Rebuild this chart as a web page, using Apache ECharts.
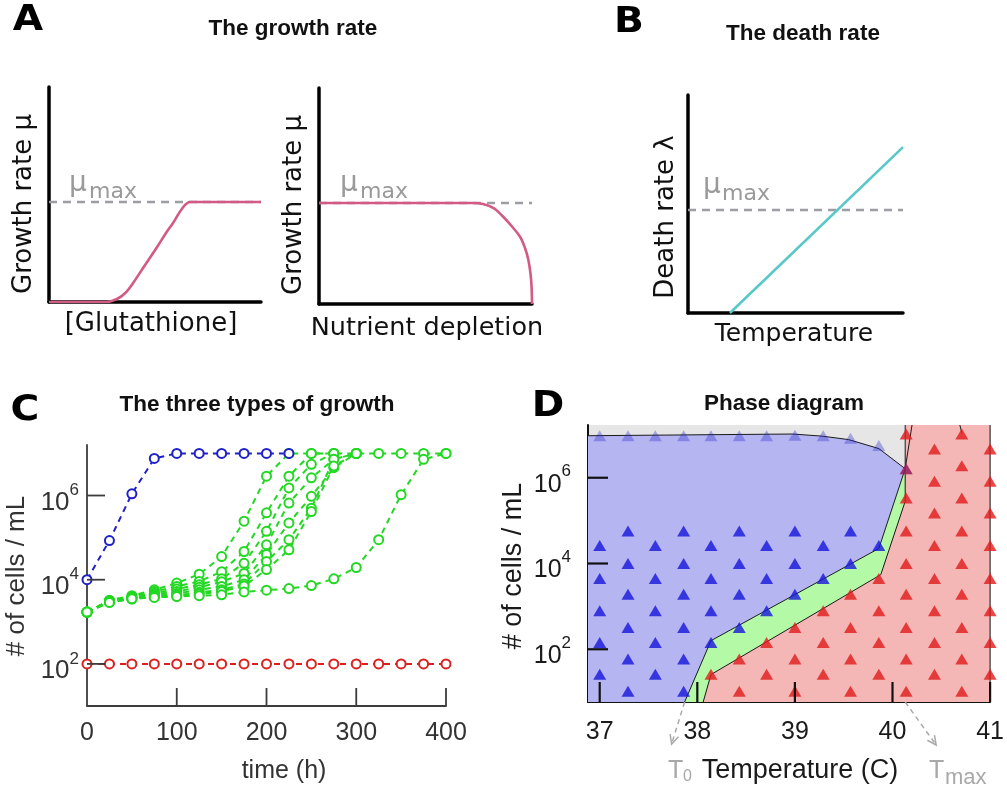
<!DOCTYPE html>
<html><head><meta charset="utf-8">
<script src="https://cdn.jsdelivr.net/npm/echarts@6/dist/echarts.min.js"></script>
<style>html,body{margin:0;padding:0;background:#fff}#c{width:1007px;height:791px}</style>
</head><body><div id="c"></div>
<script>
// ---------- Panel A / B schematic data ----------
const muMax = 1;
const glutX  = [0,0.1,0.2,0.27,0.32,0.36,0.40,0.45,0.51,0.555,0.585,0.63,0.665,0.75,0.85,1];
const glutMu = [0,0,0,0,0.03,0.09,0.2,0.36,0.55,0.7,0.79,0.94,1,1,1,1];
const nutX  = [0,0.72,0.77,0.82,0.865,0.905,0.944,0.968,0.983,0.993,0.998,1.0];
const nutMu = [1,1,0.99,0.95,0.864,0.77,0.666,0.55,0.436,0.3,0.17,0];
const deathT = [0.195, 1.0];
const deathLambda = [0, 1.61];

// ---------- Panel C data (log10 cells/mL) ----------
const timesC = [0,25,50,75,100,125,150,175,200,225,250,275,300,325,350,375,400];
const blueLog = [4.0,4.93,6.04,6.88,7.0,7.0,7.0,7.0,7.0,7.0];
const redLog  = [2,2,2,2,2,2,2,2,2,2,2,2,2,2,2,2,2];
const green1 = [3.23,3.51,3.62,3.76,3.92,4.13,4.55,5.39,6.46,7.0,7.0,7.0,7.0,7.0,7.0,7.0,7.0];
const green2 = [3.23,3.50,3.60,3.72,3.84,3.96,4.19,4.67,5.59,6.46,7.0,7.0];
const green3 = [3.23,3.50,3.58,3.68,3.78,3.88,4.02,4.39,5.15,6.18,6.74,7.0];
const green4 = [3.23,3.49,3.57,3.65,3.72,3.82,3.95,4.15,4.83,5.82,6.42,6.86,7.0];
const green5 = [3.23,3.48,3.56,3.62,3.67,3.76,3.84,4.0,4.6,5.35,5.98,6.66,7.0];
const green6 = [3.23,3.47,3.55,3.60,3.63,3.70,3.76,3.90,4.43,4.95,5.70,6.86,7.0];
const green7 = [3.23,3.47,3.54,3.59,3.62,3.66,3.72,3.85,4.24,4.71,5.62,6.70,7.0];
const green8 = [3.23,3.46,3.55,3.58,3.60,3.62,3.64,3.71,3.75,3.79,3.86,4.02,4.29,4.95,6.02,6.86,7.0];
const cXTicks = [100,200,300,400];
const cYTicks = [2,4,6];

// ---------- Panel D data ----------
const dX = [36.88, 41.0];
const dY = [0.77, 7.23];
const dXTicks = [37,38,39,40,41];
const dYTicks = [2,4,6];
const tempCols = [37.00,37.29,37.57,37.86,38.14,38.43,38.71,39.00,39.29,39.57,39.86,40.14,40.43,40.71,41.00];
const blueRows = [
 [1.42,2.16,2.90,3.65,4.42],[1.02,1.77,2.51,3.28,4.00,4.76],[1.42,2.16,2.90,3.65,4.42],[1.02,1.77,2.51,3.28,4.00,4.76],
 [2.16,2.90,3.65,4.42],[2.51,3.28,4.00,4.76],[2.90,3.65,4.42],[3.28,4.00,4.76],[3.65,4.42],[4.00,4.76],[4.42],[],[],[],[]];
const redRows = [
 [],[],[],[],[1.42],[1.02,1.77],[1.42,2.16],[1.02,1.77,2.51],[1.42,2.16,2.90],[1.02,1.77,2.51,3.28],[1.42,2.16,2.90,3.65],
 [1.02,1.77,2.51,3.28,4.00,4.76,5.53,6.21,7.02],[1.42,2.16,2.90,3.65,4.42,5.18,5.92,6.67],
 [1.02,1.77,2.51,3.28,4.00,4.76,5.53,6.28,7.02],[1.42,2.16,2.90,3.65,4.42,5.18,5.92,6.67]];
const topRow = [6.98,6.98,6.98,6.98,6.98,6.98,6.98,6.99,6.98,6.92,6.75,6.21];
const bluePoly  = [[36.88,0.77],[36.88,6.98],[38.975,7.02],[39.28,6.97],[39.55,6.89],[39.86,6.68],[40.13,6.21],[39.86,4.35],[38.14,2.20],[37.87,0.77]];
const greenPoly = [[37.87,0.77],[38.14,2.20],[39.86,4.35],[40.13,6.21],[40.13,5.45],[39.88,3.74],[38.14,1.41],[38.06,0.77]];
const redPoly   = [[38.06,0.77],[38.14,1.41],[39.88,3.74],[40.13,5.45],[40.13,7.23],[41.0,7.23],[41.0,0.77]];
const topEdge   = [[36.88,6.98],[38.975,7.02],[39.28,6.97],[39.55,6.89],[39.86,6.68],[40.13,6.21]];
const blueGreenEdge = [[40.13,6.21],[39.86,4.35],[38.14,2.20],[37.87,0.77]];
const greenRedEdge  = [[40.13,6.21],[40.13,5.45],[39.88,3.74],[38.14,1.41],[38.06,0.77]];
const vertEdge  = [[40.13,7.23],[40.13,6.21]];
const slantEdge = [[40.20,7.23],[40.13,6.21]];
const smallEdge = [[40.69,7.23],[40.71,7.05]];
const T0 = 37.87, Tmax = 40.13;

// ---------- styling ----------
const PINK='#d35a84', GRAYD='#9d9da4', CYAN='#58c8c9';
const FA = 'DejaVu Sans';
const FS = 'Liberation Sans, Arial, sans-serif';
const CB='#2020c8', CG='#22d822', CR='#dc2020';

const chart = echarts.init(document.getElementById('c'), null, {renderer:'canvas', width:1007, height:791});

const grids = [
  {left:49, top:87, width:212, height:215},
  {left:319, top:88, width:213, height:216},
  {left:688, top:95, width:215, height:218},
  {left:87, top:445, width:359, height:261},
  {left:588, top:425, width:403, height:277}
];

function bare(gi, min, max) {
  return {gridIndex:gi, type:'value', min, max,
    axisLine:{show:true, onZero:false, lineStyle:{color:'#000', width:3.5}},
    axisTick:{show:false}, axisLabel:{show:false}, splitLine:{show:false}};
}
const pairs = (xs, ys) => ys.map((y,i)=>[xs[i], y]);

const cAxisCol = '#3c3c3c';
const supRich = (col, b, s, pb, ps) => ({
  b:{fontSize:b, fontFamily:FS, color:col, padding:[pb,0,0,0]},
  s:{fontSize:s, fontFamily:FS, color:col, padding:[0,0,ps,0]}
});

const xAxis = [
  bare(0,0,1), bare(1,0,1), bare(2,0,1),
  {gridIndex:3, type:'value', min:0, max:400, interval:100,
    axisLine:{show:true, onZero:false, lineStyle:{color:cAxisCol, width:1.8}},
    axisTick:{show:false},
    axisLabel:{margin:15, fontSize:25, fontFamily:FS, color:'#333'},
    splitLine:{show:false}},
  {gridIndex:4, type:'value', min:dX[0], max:dX[1],
    axisLine:{show:true, onZero:false, lineStyle:{color:'#111', width:2}},
    axisTick:{show:false},
    axisLabel:{margin:18, fontSize:25, fontFamily:FS, color:'#1a1a1a', customValues:dXTicks},
    splitLine:{show:false}}
];
const yAxis = [
  bare(0,0,2.15), bare(1,0,2.14), bare(2,0,2.116),
  {gridIndex:3, type:'value', min:1, max:7.2,
    axisLine:{show:true, onZero:false, lineStyle:{color:cAxisCol, width:1.8}},
    axisTick:{show:false},
    axisLabel:{margin:8, customValues:cYTicks, formatter:v=>'{b|10}{s|'+v+'}', rich:supRich('#333',26,17,14,10)},
    splitLine:{show:false}},
  {gridIndex:4, type:'value', min:dY[0], max:dY[1],
    axisLine:{show:true, onZero:false, lineStyle:{color:'#111', width:2}},
    axisTick:{show:false},
    axisLabel:{margin:17, customValues:dYTicks, formatter:v=>'{b|10}{s|'+v+'}', rich:supRich('#1a1a1a',25,17,14,12)},
    splitLine:{show:false}}
];

const series = [];
// A / B
[0,1,2].forEach(gi=>{
  series.push({type:'line', xAxisIndex:gi, yAxisIndex:gi, data:[[0,muMax],[1,muMax]], symbol:'none', silent:true,
    lineStyle:{type:[8,6], color:GRAYD, width:2.6}, z:2});
});
series.push({type:'line', xAxisIndex:0, yAxisIndex:0, data:pairs(glutX, glutMu), smooth:0.35, symbol:'none',
  lineStyle:{color:PINK, width:2.6}, z:3});
series.push({type:'line', xAxisIndex:1, yAxisIndex:1, data:pairs(nutX, nutMu), smooth:0.35, symbol:'none',
  lineStyle:{color:PINK, width:2.6}, z:3});
series.push({type:'line', xAxisIndex:2, yAxisIndex:2, data:pairs(deathT, deathLambda), symbol:'none',
  lineStyle:{color:CYAN, width:2.6}, z:3});

// C
function cSeries(vals, color) {
  return {type:'line', xAxisIndex:3, yAxisIndex:3, data:pairs(timesC, vals), symbol:'emptyCircle', symbolSize:9,
    itemStyle:{color:color, borderColor:color, borderWidth:1.6},
    lineStyle:{color:color, width:2, type:[6,5]}, z:3};
}
[green1,green2,green3,green4,green5,green6,green7,green8].forEach(g=>series.push(cSeries(g, CG)));
series.push(cSeries(redLog, CR));
series.push(cSeries(blueLog, CB));

// D
function poly(pts, color, z) {
  return {type:'custom', xAxisIndex:4, yAxisIndex:4, data:[[pts[0][0], pts[0][1]]], silent:true, clip:true, z:z,
    renderItem:(params, api)=>({type:'polygon', shape:{points:pts.map(p=>api.coord(p))}, style:{fill:color}})};
}
series.push(poly([[dX[0],dY[0]],[dX[1],dY[0]],[dX[1],dY[1]],[dX[0],dY[1]]], '#e6e6e6', 0));
series.push(poly(bluePoly, '#b5b5f2', 1));
series.push(poly(greenPoly, '#b4f9a6', 1));
series.push(poly(redPoly, '#f5b6b6', 1));
[topEdge, blueGreenEdge, greenRedEdge, vertEdge, slantEdge, smallEdge].forEach(e=>{
  series.push({type:'line', xAxisIndex:4, yAxisIndex:4, data:e, symbol:'none', silent:true,
    lineStyle:{color:'#1a1a1a', width:1}, z:2});
});
series.push({type:'line', xAxisIndex:4, yAxisIndex:4, data:[[dX[1],dY[0]],[dX[1],dY[1]]], symbol:'none', silent:true,
  lineStyle:{color:'#555', width:1.5}, z:2});
const triBlue=[], triRed=[], triTop=[];
tempCols.forEach((t,k)=>{
  blueRows[k].forEach(v=>triBlue.push([t,v]));
  redRows[k].forEach(v=>triRed.push([t,v]));
  if (k < topRow.length) triTop.push([t, topRow[k]]);
});
series.push({type:'scatter', xAxisIndex:4, yAxisIndex:4, data:triBlue, symbol:'triangle', symbolSize:[13,11],
  itemStyle:{color:'#1717dc'}, z:4});
series.push({type:'scatter', xAxisIndex:4, yAxisIndex:4, data:triRed, symbol:'triangle', symbolSize:[13,11],
  itemStyle:{color:'#e01c1c'}, z:4});
series.push({type:'scatter', xAxisIndex:4, yAxisIndex:4, data:triTop, symbol:'triangle', symbolSize:[13,11],
  itemStyle:{color:'rgba(40,40,200,0.42)'}, z:5});

chart.setOption({animation:false, grid:grids.map(g=>Object.assign({containLabel:false}, g)), xAxis, yAxis, series});

// ---------- texts ----------
function txt(text, x, y, o) {
  o = o || {};
  return {type:'text', x, y, rotation:o.rot||0, scaleX:o.sx||1, z:100, silent:true,
    style:{text, fontSize:o.fs||25, fontFamily:o.ff||FA, fontWeight:o.fw||'normal', fill:o.col||'#111',
      align:o.al||'center', verticalAlign:'middle'}};
}
const R = Math.PI/2;
const g = [];
// panel letters
const LT = {fs:35, fw:'bold', sx:1.12, col:'#000'};
g.push(txt('A', 28, 21, LT));
g.push(txt('B', 629, 23, LT));
g.push(txt('C', 25, 411, LT));
g.push(txt('D', 548, 407, LT));
// titles
const tt = {fs:22.5, fw:'bold', ff:FS, col:'#111'};
g.push(txt('The growth rate', 293, 29, tt));
g.push(txt('The death rate', 803, 34, tt));
g.push(txt('The three types of growth', 257, 405, tt));
g.push(txt('Phase diagram', 784, 404, tt));
// A/B axis titles
g.push(txt('Growth rate μ', 24, 204, {rot:R, fs:26}));
g.push(txt('Growth rate μ', 294, 205, {rot:R, fs:26}));
g.push(txt('Death rate λ', 666, 217, {rot:R, fs:26}));
g.push(txt('[Glutathione]', 151, 324, {fs:26}));
g.push(txt('Nutrient depletion', 427, 328, {fs:25.5}));
g.push(txt('Temperature', 794, 334, {fs:25}));
// mu max labels
[[69,89,184,192],[340,360,184,192],[703,722,186,194]].forEach(p=>{
  g.push(txt('μ', p[0], p[2], {fs:28, al:'left', col:'#9a9a9a'}));
  g.push(txt('max', p[1], p[3], {fs:22, al:'left', col:'#9a9a9a'}));
});
// C labels
g.push(txt('# of cells / mL', 17, 576, {rot:R, fs:26, ff:FS, col:'#333'}));
g.push(txt('time (h)', 284, 771, {fs:25, ff:FS, col:'#333'}));
// D labels
g.push(txt('# of cells / mL', 514, 566, {rot:R, fs:27, ff:FS, col:'#1a1a1a'}));
g.push(txt('Temperature (C)', 800, 771, {fs:27, ff:FS, col:'#1a1a1a'}));
g.push(txt('T', 668, 771, {fs:25, ff:FS, col:'#a8a8a8', al:'left'}));
g.push(txt('0', 683, 777, {fs:16, ff:FS, col:'#a8a8a8', al:'left'}));
g.push(txt('T', 929, 771, {fs:25, ff:FS, col:'#a8a8a8', al:'left'}));
g.push(txt('max', 945, 778, {fs:22, ff:FS, col:'#a8a8a8', al:'left'}));

// ticks (inward), placed through the axes' own scales
function seg(a, b, col, w) {
  return {type:'line', z:50, silent:true, shape:{x1:a[0], y1:a[1], x2:b[0], y2:b[1]}, style:{stroke:col, lineWidth:w}};
}
function ticks(gi, xs, ys, yMin, xMin, len, col, w) {
  const f = {xAxisIndex:gi, yAxisIndex:gi};
  xs.forEach(v=>{ const p = chart.convertToPixel(f, [v, yMin]); g.push(seg(p, [p[0], p[1]-len], col, w)); });
  ys.forEach(v=>{ const p = chart.convertToPixel(f, [xMin, v]); g.push(seg(p, [p[0]+len, p[1]], col, w)); });
}
ticks(3, cXTicks, cYTicks, 1, 0, 18, cAxisCol, 1.8);
ticks(4, dXTicks, dYTicks, dY[0], dX[0], 20, '#111', 2.2);

// arrows
function arrow(from, to) {
  const dx = to[0]-from[0], dy = to[1]-from[1], L = Math.hypot(dx,dy), ux = dx/L, uy = dy/L;
  const a = 0.45, h = 10;
  const w1 = [to[0] - h*(ux*Math.cos(a) - uy*Math.sin(a)), to[1] - h*(uy*Math.cos(a) + ux*Math.sin(a))];
  const w2 = [to[0] - h*(ux*Math.cos(a) + uy*Math.sin(a)), to[1] - h*(uy*Math.cos(a) - ux*Math.sin(a))];
  return [
    {type:'line', z:100, silent:true, shape:{x1:from[0], y1:from[1], x2:to[0], y2:to[1]}, style:{stroke:'#aaa', lineWidth:1.5, lineDash:[5,4]}},
    {type:'polyline', z:100, silent:true, shape:{points:[w1, to, w2]}, style:{stroke:'#aaa', lineWidth:1.5, fill:null}}
  ];
}
const p0 = chart.convertToPixel({xAxisIndex:4, yAxisIndex:4}, [T0, dY[0]]);
const p1 = chart.convertToPixel({xAxisIndex:4, yAxisIndex:4}, [Tmax, dY[0]]);
g.push(...arrow(p0, [p0[0]-13, p0[1]+42]));
g.push(...arrow(p1, [p1[0]+31, p1[1]+43]));
chart.setOption({graphic:g});
</script></body></html>
